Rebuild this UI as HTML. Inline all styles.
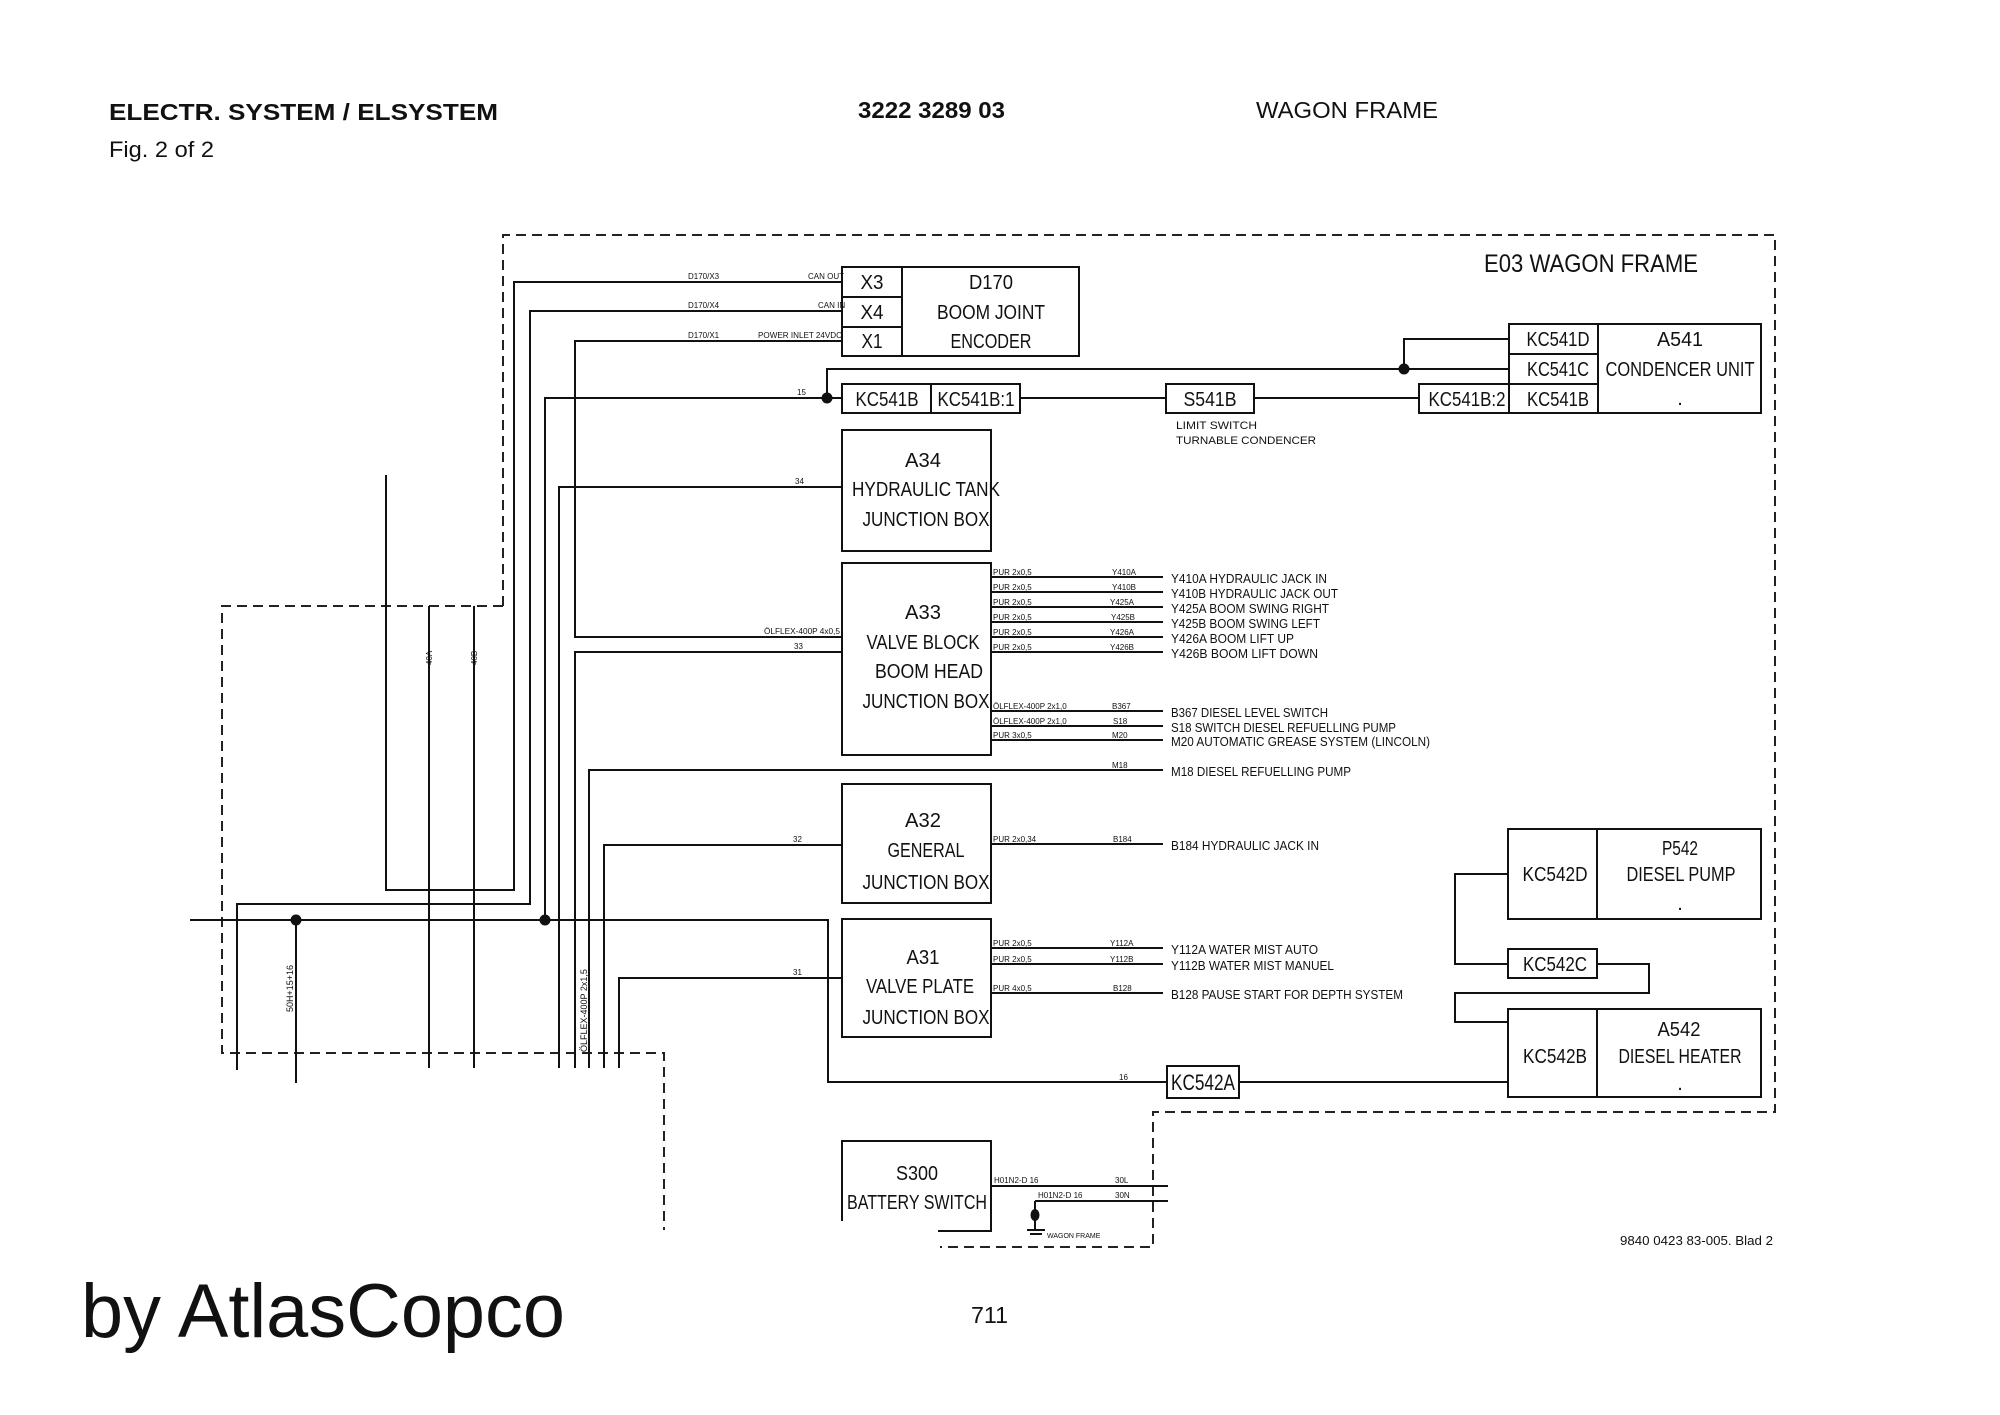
<!DOCTYPE html>
<html><head><meta charset="utf-8"><style>
html,body{margin:0;padding:0;background:#fff;}
svg{display:block;}
text{font-family:"Liberation Sans",sans-serif;fill:#111;}
</style></head><body>
<svg width="2000" height="1415" viewBox="0 0 2000 1415" xmlns="http://www.w3.org/2000/svg">
<rect width="2000" height="1415" fill="#fff"/>
<!-- header -->
<text x="109" y="120" font-size="23" font-weight="bold" textLength="389" lengthAdjust="spacingAndGlyphs">ELECTR. SYSTEM / ELSYSTEM</text>
<text x="109" y="157" font-size="22" textLength="105" lengthAdjust="spacingAndGlyphs">Fig. 2 of 2</text>
<text x="858" y="118" font-size="23" font-weight="bold" textLength="147" lengthAdjust="spacingAndGlyphs">3222 3289 03</text>
<text x="1256" y="118" font-size="23" textLength="182" lengthAdjust="spacingAndGlyphs">WAGON FRAME</text>
<text x="81" y="1337" font-size="76" textLength="484" lengthAdjust="spacingAndGlyphs">by AtlasCopco</text>
<text x="971" y="1323" font-size="23" textLength="37" lengthAdjust="spacingAndGlyphs">711</text>

<!-- dashed frames -->
<g fill="none" stroke="#222" stroke-width="2" stroke-dasharray="10,6">
<path d="M503,606 V235 H1775 V1112 H1153 V1247 H940"/>
<path d="M503,606 H222 V1053 H664 V1230"/>
</g>

<text x="1484" y="272" font-size="25" textLength="214" lengthAdjust="spacingAndGlyphs">E03 WAGON FRAME</text>

<!-- wires -->
<g fill="none" stroke="#111" stroke-width="2">
<path d="M842,282 H514 V890 H386 V475"/>
<path d="M842,311 H530 V904 H237 V1070"/>
<path d="M842,341 H575 V637 H842"/>
<path d="M827,398 H545 V920"/>
<path d="M842,487 H559 V1068"/>
<path d="M842,652 H575 V1068"/>
<path d="M1163,770 H589 V1068"/>
<path d="M842,845 H604 V1068"/>
<path d="M842,978 H619 V1068"/>
<path d="M429,606 V1068"/>
<path d="M474,606 V1068"/>
<path d="M190,920 H828 V1082 H1167"/>
<path d="M296,920 V1083"/>
<path d="M1239,1082 H1508"/>
<path d="M827,398 H842"/>
<path d="M827,398 V369 H1509"/>
<path d="M1404,369 V339 H1509"/>
<path d="M1020,398 H1166"/>
<path d="M1254,398 H1419"/>
<path d="M1508,874 H1455 V964 H1508"/>
<path d="M1597,964 H1649 V993 H1455 V1022 H1508"/>
<path d="M991,577 H1163 M991,592 H1163 M991,607 H1163 M991,622 H1163 M991,637 H1163 M991,652 H1163 M991,711 H1163 M991,726 H1163 M991,740 H1163"/>
<path d="M991,844 H1163 M991,948 H1163 M991,964 H1163 M991,993 H1163"/>
<path d="M991,1186 H1168 M1035,1201 H1168 M1035,1201 V1230"/>
<path d="M1027,1230 H1045 M1030,1234 H1042"/>
</g>
<circle cx="296" cy="920" r="5.5" fill="#111"/>
<circle cx="545" cy="920" r="5.5" fill="#111"/>
<circle cx="827" cy="398" r="5.5" fill="#111"/>
<circle cx="1404" cy="369" r="5.5" fill="#111"/>
<ellipse cx="1035" cy="1215" rx="4.5" ry="6" fill="#111"/>

<!-- boxes -->
<g fill="none" stroke="#111" stroke-width="2">
<rect x="842" y="267" width="237" height="89"/>
<path d="M902,267 V356 M842,297 H902 M842,327 H902"/>
<rect x="842" y="384" width="178" height="29"/>
<path d="M931,384 V413"/>
<rect x="1166" y="384" width="88" height="29"/>
<rect x="1419" y="384" width="90" height="29"/>
<rect x="1509" y="324" width="252" height="89"/>
<path d="M1598,324 V413 M1509,354 H1598 M1509,384 H1598"/>
<rect x="842" y="430" width="149" height="121"/>
<rect x="842" y="563" width="149" height="192"/>
<rect x="842" y="784" width="149" height="119"/>
<rect x="842" y="919" width="149" height="118"/>
<path d="M842,1221 V1141 H991 V1231 H938"/>
<rect x="1167" y="1066" width="72" height="32"/>
<rect x="1508" y="829" width="253" height="90"/>
<path d="M1597,829 V919"/>
<rect x="1508" y="949" width="89" height="29"/>
<rect x="1508" y="1009" width="253" height="88"/>
<path d="M1597,1009 V1097"/>
</g>

<!-- box texts -->
<g font-size="20" text-anchor="middle">
<text x="872" y="289" textLength="23" lengthAdjust="spacingAndGlyphs">X3</text>
<text x="872" y="319" textLength="23" lengthAdjust="spacingAndGlyphs">X4</text>
<text x="872" y="348" textLength="21" lengthAdjust="spacingAndGlyphs">X1</text>
<text x="991" y="289" textLength="44" lengthAdjust="spacingAndGlyphs">D170</text>
<text x="991" y="319" textLength="108" lengthAdjust="spacingAndGlyphs">BOOM JOINT</text>
<text x="991" y="348" textLength="81" lengthAdjust="spacingAndGlyphs">ENCODER</text>
<text x="887" y="406" textLength="63" lengthAdjust="spacingAndGlyphs">KC541B</text>
<text x="976" y="406" textLength="77" lengthAdjust="spacingAndGlyphs">KC541B:1</text>
<text x="1210" y="406" textLength="53" lengthAdjust="spacingAndGlyphs">S541B</text>
<text x="1467" y="406" textLength="77" lengthAdjust="spacingAndGlyphs">KC541B:2</text>
<text x="1558" y="346" textLength="63" lengthAdjust="spacingAndGlyphs">KC541D</text>
<text x="1558" y="376" textLength="62" lengthAdjust="spacingAndGlyphs">KC541C</text>
<text x="1558" y="406" textLength="62" lengthAdjust="spacingAndGlyphs">KC541B</text>
<text x="1680" y="346" textLength="46" lengthAdjust="spacingAndGlyphs">A541</text>
<text x="1680" y="376" textLength="149" lengthAdjust="spacingAndGlyphs">CONDENCER UNIT</text>
<text x="1680" y="405">.</text>
<text x="923" y="467" textLength="36" lengthAdjust="spacingAndGlyphs">A34</text>
<text x="926" y="496" textLength="148" lengthAdjust="spacingAndGlyphs">HYDRAULIC TANK</text>
<text x="926" y="526" textLength="127" lengthAdjust="spacingAndGlyphs">JUNCTION BOX</text>
<text x="923" y="619" textLength="36" lengthAdjust="spacingAndGlyphs">A33</text>
<text x="923" y="649" textLength="113" lengthAdjust="spacingAndGlyphs">VALVE BLOCK</text>
<text x="929" y="678" textLength="108" lengthAdjust="spacingAndGlyphs">BOOM HEAD</text>
<text x="926" y="708" textLength="127" lengthAdjust="spacingAndGlyphs">JUNCTION BOX</text>
<text x="923" y="827" textLength="36" lengthAdjust="spacingAndGlyphs">A32</text>
<text x="926" y="857" textLength="77" lengthAdjust="spacingAndGlyphs">GENERAL</text>
<text x="926" y="889" textLength="127" lengthAdjust="spacingAndGlyphs">JUNCTION BOX</text>
<text x="923" y="964" textLength="33" lengthAdjust="spacingAndGlyphs">A31</text>
<text x="920" y="993" textLength="108" lengthAdjust="spacingAndGlyphs">VALVE PLATE</text>
<text x="926" y="1024" textLength="127" lengthAdjust="spacingAndGlyphs">JUNCTION BOX</text>
<text x="917" y="1180" textLength="42" lengthAdjust="spacingAndGlyphs">S300</text>
<text x="917" y="1209" textLength="140" lengthAdjust="spacingAndGlyphs">BATTERY SWITCH</text>
<text x="1203" y="1090" font-size="22" textLength="64" lengthAdjust="spacingAndGlyphs">KC542A</text>
<text x="1555" y="881" textLength="65" lengthAdjust="spacingAndGlyphs">KC542D</text>
<text x="1680" y="855" textLength="36" lengthAdjust="spacingAndGlyphs">P542</text>
<text x="1681" y="881" textLength="109" lengthAdjust="spacingAndGlyphs">DIESEL PUMP</text>
<text x="1680" y="910">.</text>
<text x="1555" y="971" textLength="64" lengthAdjust="spacingAndGlyphs">KC542C</text>
<text x="1555" y="1063" textLength="64" lengthAdjust="spacingAndGlyphs">KC542B</text>
<text x="1679" y="1036" textLength="43" lengthAdjust="spacingAndGlyphs">A542</text>
<text x="1680" y="1063" textLength="123" lengthAdjust="spacingAndGlyphs">DIESEL HEATER</text>
<text x="1680" y="1090">.</text>
</g>

<text x="1176" y="429" font-size="11" textLength="81" lengthAdjust="spacingAndGlyphs">LIMIT SWITCH</text>
<text x="1176" y="444" font-size="11" textLength="140" lengthAdjust="spacingAndGlyphs">TURNABLE CONDENCER</text>

<g font-size="13">
<text x="1171" y="583" textLength="156" lengthAdjust="spacingAndGlyphs">Y410A HYDRAULIC JACK IN</text>
<text x="1171" y="598" textLength="167" lengthAdjust="spacingAndGlyphs">Y410B HYDRAULIC JACK OUT</text>
<text x="1171" y="613" textLength="158" lengthAdjust="spacingAndGlyphs">Y425A BOOM SWING RIGHT</text>
<text x="1171" y="628" textLength="149" lengthAdjust="spacingAndGlyphs">Y425B BOOM SWING LEFT</text>
<text x="1171" y="643" textLength="123" lengthAdjust="spacingAndGlyphs">Y426A BOOM LIFT UP</text>
<text x="1171" y="658" textLength="147" lengthAdjust="spacingAndGlyphs">Y426B BOOM LIFT DOWN</text>
<text x="1171" y="717" textLength="157" lengthAdjust="spacingAndGlyphs">B367 DIESEL LEVEL SWITCH</text>
<text x="1171" y="732" textLength="225" lengthAdjust="spacingAndGlyphs">S18 SWITCH DIESEL REFUELLING PUMP</text>
<text x="1171" y="746" textLength="259" lengthAdjust="spacingAndGlyphs">M20 AUTOMATIC GREASE SYSTEM (LINCOLN)</text>
<text x="1171" y="776" textLength="180" lengthAdjust="spacingAndGlyphs">M18 DIESEL REFUELLING PUMP</text>
<text x="1171" y="850" textLength="148" lengthAdjust="spacingAndGlyphs">B184 HYDRAULIC JACK IN</text>
<text x="1171" y="954" textLength="147" lengthAdjust="spacingAndGlyphs">Y112A WATER MIST AUTO</text>
<text x="1171" y="970" textLength="163" lengthAdjust="spacingAndGlyphs">Y112B WATER MIST MANUEL</text>
<text x="1171" y="999" textLength="232" lengthAdjust="spacingAndGlyphs">B128 PAUSE START FOR DEPTH SYSTEM</text>
<text x="1620" y="1245" textLength="153" lengthAdjust="spacingAndGlyphs">9840 0423 83-005. Blad 2</text>
</g>

<g font-size="8">
<text x="993" y="575">PUR 2x0,5</text><text x="1112" y="575">Y410A</text>
<text x="993" y="590">PUR 2x0,5</text><text x="1112" y="590">Y410B</text>
<text x="993" y="605">PUR 2x0,5</text><text x="1110" y="605">Y425A</text>
<text x="993" y="620">PUR 2x0,5</text><text x="1111" y="620">Y425B</text>
<text x="993" y="635">PUR 2x0,5</text><text x="1110" y="635">Y426A</text>
<text x="993" y="650">PUR 2x0,5</text><text x="1110" y="650">Y426B</text>
<text x="993" y="709">ÖLFLEX-400P 2x1,0</text><text x="1112" y="709">B367</text>
<text x="993" y="724">ÖLFLEX-400P 2x1,0</text><text x="1113" y="724">S18</text>
<text x="993" y="738">PUR 3x0,5</text><text x="1112" y="738">M20</text>
<text x="1112" y="768">M18</text>
<text x="993" y="842">PUR 2x0,34</text><text x="1113" y="842">B184</text>
<text x="993" y="946">PUR 2x0,5</text><text x="1110" y="946">Y112A</text>
<text x="993" y="962">PUR 2x0,5</text><text x="1110" y="962">Y112B</text>
<text x="993" y="991">PUR 4x0,5</text><text x="1113" y="991">B128</text>
<text x="1119" y="1080">16</text>
<text x="688" y="279">D170/X3</text><text x="808" y="279">CAN OUT</text>
<text x="688" y="308">D170/X4</text><text x="818" y="308">CAN IN</text>
<text x="688" y="338">D170/X1</text><text x="758" y="338" textLength="84" lengthAdjust="spacingAndGlyphs">POWER INLET 24VDC</text>
<text x="797" y="395">15</text>
<text x="795" y="484">34</text>
<text x="764" y="634" textLength="76" lengthAdjust="spacingAndGlyphs">ÖLFLEX-400P 4x0,5</text>
<text x="794" y="649">33</text>
<text x="793" y="842">32</text>
<text x="793" y="975">31</text>
<text x="994" y="1183">H01N2-D 16</text><text x="1115" y="1183">30L</text>
<text x="1038" y="1198">H01N2-D 16</text><text x="1115" y="1198">30N</text>
<text x="1047" y="1238" font-size="7">WAGON FRAME</text>
<text transform="translate(432,665) rotate(-90)">40A</text>
<text transform="translate(477,665) rotate(-90)">40B</text>
<text transform="translate(293,1012) rotate(-90)" font-size="9">50H+15+16</text>
<text transform="translate(587,1052) rotate(-90)" font-size="9">ÖLFLEX-400P 2x1,5</text>
</g>
</svg>
</body></html>
